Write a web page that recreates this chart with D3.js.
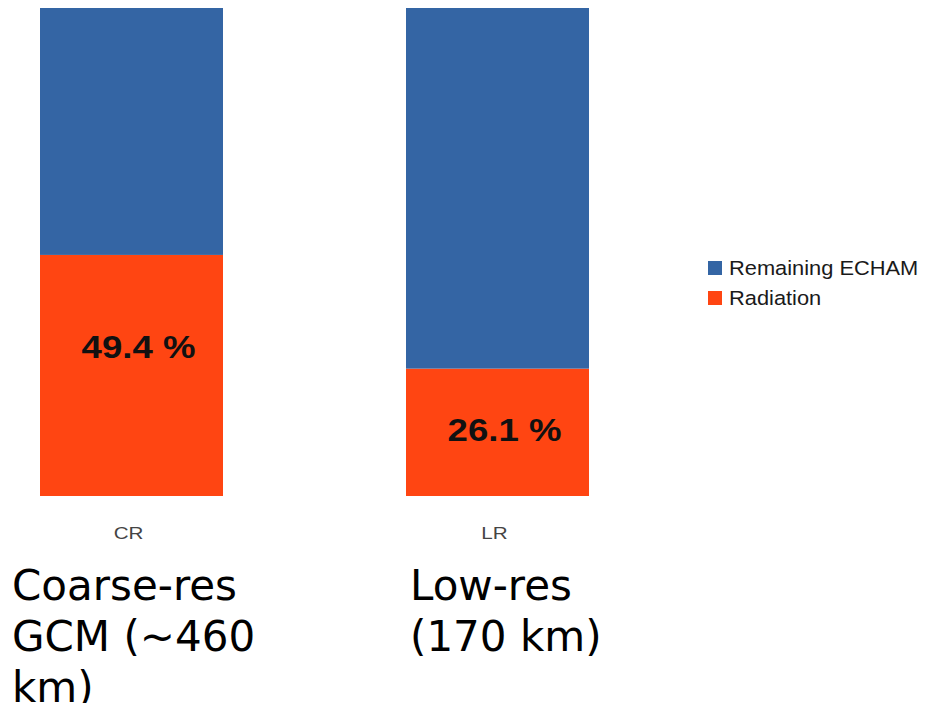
<!DOCTYPE html>
<html>
<head>
<meta charset="utf-8">
<script src="https://cdn.jsdelivr.net/npm/d3@7"></script>
<style>
  html, body { margin: 0; padding: 0; background: #ffffff; }
  svg { display: block; }
</style>
</head>
<body>
<svg id="chart" width="931" height="703"></svg>
<script>
// Share of model runtime (%) per configuration
const categories = ["CR", "LR"];
const radiation = [49.4, 26.1];
const remaining = [50.6, 73.9];
const seriesNames = ["Remaining ECHAM", "Radiation"];
const seriesColors = ["#3465a4", "#ff4512"];
const captions = [
  ["Coarse-res", "GCM (~460", "km)"],
  ["Low-res", "(170 km)"]
];

const svg = d3.select("#chart");

const x = d3.scaleBand()
  .domain(categories)
  .range([40, 589])
  .paddingInner(0.5)
  .paddingOuter(0);

const y = d3.scaleLinear()
  .domain([0, 100])
  .range([496, 8]);

// Stack: Radiation at the bottom, remaining time on top
const rows = categories.map((c, i) => ({ cat: c, "Radiation": radiation[i], "Remaining ECHAM": remaining[i] }));
const stack = d3.stack().keys(["Radiation", "Remaining ECHAM"]);
const layers = stack(rows);
const color = d3.scaleOrdinal().domain(seriesNames).range(seriesColors);

svg.append("g")
  .selectAll("g")
  .data(layers)
  .join("g")
  .attr("fill", d => color(d.key))
  .selectAll("rect")
  .data(d => d)
  .join("rect")
  .attr("x", d => x(d.data.cat))
  .attr("width", x.bandwidth())
  .attr("y", d => y(d[1]))
  .attr("height", d => y(d[0]) - y(d[1]));

// Percentage labels inside the radiation segment
const labelLift = [0.62, 0.52];
svg.append("g")
  .selectAll("text")
  .data(categories)
  .join("text")
  .attr("transform", (c, i) => {
    const cx = x(c) + x.bandwidth() / 2 + 7;
    const cy = y(radiation[i] * labelLift[i]);
    return `translate(${cx},${cy}) scale(1.18,1)`;
  })
  .attr("text-anchor", "middle")
  .attr("dominant-baseline", "central")
  .attr("font-family", "'Liberation Sans', Arial, sans-serif")
  .attr("font-weight", "bold")
  .attr("font-size", 31)
  .attr("fill", "#111111")
  .text((c, i) => d3.format(".1f")(radiation[i]) + " %");

// Category axis (labels only)
const xAxis = svg.append("g")
  .attr("transform", "translate(0,496)")
  .call(d3.axisBottom(x).tickSize(0).tickPadding(0));
xAxis.select(".domain").remove();
xAxis.selectAll("text")
  .attr("y", 0)
  .attr("dy", 0)
  .attr("transform", "translate(-3,43) scale(1.25,1)")
  .attr("font-family", "'Liberation Sans', Arial, sans-serif")
  .attr("font-size", 16.5)
  .attr("fill", "#444444");

// Legend
const legend = svg.append("g").attr("transform", "translate(708,261)");
const legendItems = legend.selectAll("g")
  .data(seriesNames)
  .join("g")
  .attr("transform", (d, i) => `translate(0,${i * 30})`);
legendItems.append("rect")
  .attr("width", 14)
  .attr("height", 14)
  .attr("fill", d => color(d));
legendItems.append("text")
  .attr("transform", "translate(21,14) scale(1.12,1)")
  .attr("font-family", "'Liberation Sans', Arial, sans-serif")
  .attr("font-size", 19.5)
  .attr("fill", "#1a1a1a")
  .text(d => d);

// Captions under each bar
const capX = [12, 410];
svg.append("g")
  .selectAll("text")
  .data(captions)
  .join("text")
  .attr("font-family", "'DejaVu Sans', sans-serif")
  .attr("font-size", 42)
  .attr("fill", "#000000")
  .each(function (lines, i) {
    d3.select(this).selectAll("tspan")
      .data(lines)
      .join("tspan")
      .attr("x", capX[i])
      .attr("y", (l, j) => 600 + j * 51)
      .text(l => l);
  });
</script>
</body>
</html>
